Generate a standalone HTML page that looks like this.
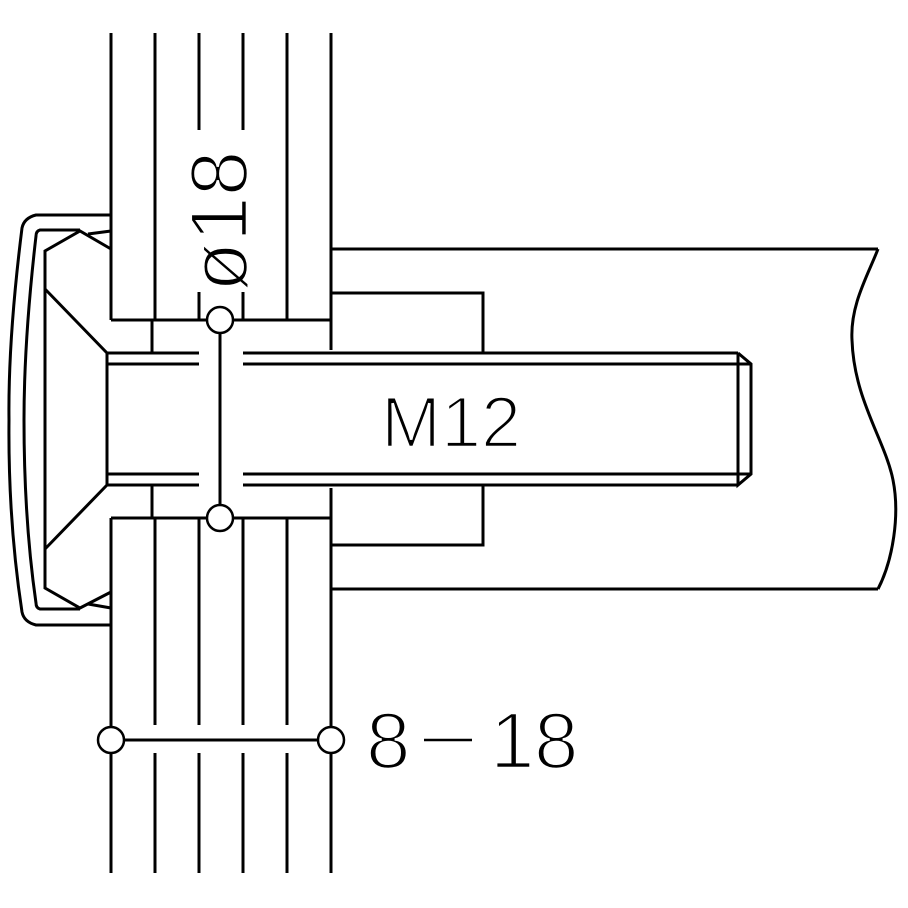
<!DOCTYPE html>
<html><head><meta charset="utf-8"><style>
html,body{margin:0;padding:0;background:#fff;width:908px;height:908px;overflow:hidden}
svg{display:block}
text{font-family:"Liberation Sans",sans-serif;fill:#000;stroke:#fff;stroke-width:2.6}
</style></head><body>
<svg width="908" height="908" viewBox="0 0 908 908" xmlns="http://www.w3.org/2000/svg">
<g stroke="#000" stroke-width="3" fill="none" stroke-linecap="butt">
<line x1="111" y1="33" x2="111" y2="320"/>
<line x1="155" y1="33" x2="155" y2="320"/>
<line x1="199" y1="33" x2="199" y2="130"/>
<line x1="199" y1="292" x2="199" y2="320"/>
<line x1="243" y1="33" x2="243" y2="130"/>
<line x1="243" y1="292" x2="243" y2="320"/>
<line x1="287" y1="33" x2="287" y2="320"/>
<line x1="331" y1="33" x2="331" y2="350"/>
<line x1="111" y1="320" x2="207" y2="320"/>
<line x1="233" y1="320" x2="331" y2="320"/>
<line x1="152" y1="320" x2="152" y2="353"/>
<line x1="111" y1="518" x2="111" y2="873"/>
<line x1="331" y1="488" x2="331" y2="873"/>
<line x1="155" y1="518" x2="155" y2="725"/><line x1="155" y1="753" x2="155" y2="873"/>
<line x1="199" y1="518" x2="199" y2="725"/><line x1="199" y1="753" x2="199" y2="873"/>
<line x1="243" y1="518" x2="243" y2="725"/><line x1="243" y1="753" x2="243" y2="873"/>
<line x1="287" y1="518" x2="287" y2="725"/><line x1="287" y1="753" x2="287" y2="873"/>
<line x1="111" y1="518" x2="207" y2="518"/>
<line x1="233" y1="518" x2="331" y2="518"/>
<line x1="152" y1="485" x2="152" y2="518"/>
<line x1="331" y1="249" x2="878" y2="249"/>
<line x1="331" y1="589" x2="878" y2="589"/>
<polyline points="331,293 483,293 483,353"/>
<polyline points="331,545 483,545 483,485"/>
<path d="M878,249 C868,275 850,305 852,340 C854,400 885,440 893,480 C900,515 893,560 878,589"/>
<line x1="107" y1="353" x2="199" y2="353"/>
<line x1="107" y1="364" x2="199" y2="364"/>
<line x1="107" y1="474" x2="199" y2="474"/>
<line x1="107" y1="485" x2="199" y2="485"/>
<line x1="243" y1="353" x2="738" y2="353"/>
<line x1="243" y1="364" x2="751" y2="364"/>
<line x1="243" y1="474" x2="751" y2="474"/>
<line x1="243" y1="485" x2="738" y2="485"/>
<line x1="107" y1="353" x2="107" y2="485"/>
<polyline points="738,353 751,364 751,474 738,485 738,353"/>
<path d="M111,215 L36,215 Q24,218 22,228 Q8,340 9,420 Q8,520 22,612 Q24,622 36,625 L111,625"/>
<path d="M80,230 L40,230 Q36,231 36,236 Q24,340 24,420 Q24,520 36,603 Q36,608 40,609 L80,609"/>
<polyline points="111,249 80,231 45,251 45,588 80,608 111,592"/>
<line x1="88" y1="234" x2="111" y2="231"/>
<line x1="88" y1="604" x2="111" y2="608"/>
<line x1="45" y1="289" x2="107" y2="353"/>
<line x1="45" y1="549" x2="107" y2="485"/>
<line x1="220" y1="333" x2="220" y2="505"/>
<circle cx="220" cy="320" r="13" stroke-width="2.5" fill="#fff"/>
<circle cx="220" cy="518" r="13" stroke-width="2.5" fill="#fff"/>
<line x1="124" y1="740" x2="318" y2="740"/>
<circle cx="111" cy="740" r="13" stroke-width="2.5" fill="#fff"/>
<circle cx="331" cy="740" r="13" stroke-width="2.5" fill="#fff"/>
</g>
<text x="381" y="447" font-size="72">M12</text>
<text x="366" y="768" font-size="80">8</text>
<line x1="424" y1="740" x2="472" y2="740" stroke="#000" stroke-width="2.5"/>
<text x="490" y="768" font-size="80">1</text>
<text x="534" y="768" font-size="80">8</text>
<text transform="translate(247,292) rotate(-90)" font-size="82">ø18</text>
</svg>
</body></html>
